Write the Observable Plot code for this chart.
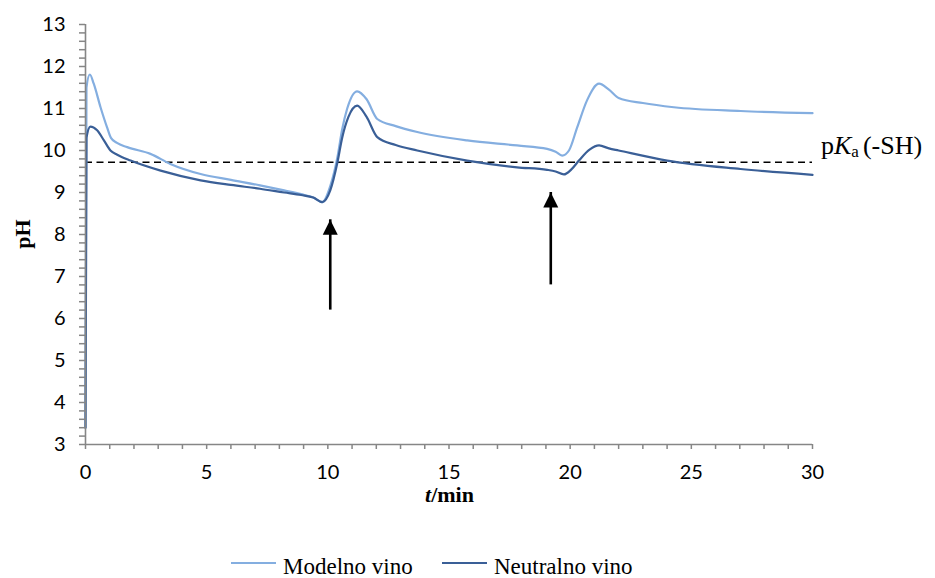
<!DOCTYPE html>
<html>
<head>
<meta charset="utf-8">
<script src="https://cdn.jsdelivr.net/npm/d3@7"></script>
<script src="https://cdn.jsdelivr.net/npm/@observablehq/plot@0.6"></script>
<style>
  body { margin: 0; background: #fff; }
  #chart { width: 935px; height: 530px; }
  #legend { position: relative; width: 935px; height: 48px; font-family: "Liberation Serif", "Times New Roman", serif; font-size: 23px; color: #000; }
  .item { position: absolute; top: 24px; display: flex; align-items: center; }
  .swatch { width: 45px; height: 2px; margin-right: 7px; position: relative; top: -4px; }
</style>
</head>
<body>
<div id="chart"></div>
<div id="legend"></div>
<script>
// ---- data ----
const seriesNames = ["Modelno vino", "Neutralno vino"];
const seriesColors = ["#84AEE0", "#3A5F97"];

const tModel = [0, 0.04, 0.18, 0.34, 0.62, 0.89, 1.05, 1.3, 1.72, 2.68, 3.5, 4.75, 6, 7.2, 8.2, 8.9, 9.4, 9.77, 10.1, 10.4, 10.59, 10.8, 11.21, 11.6, 12.04, 12.8, 13.69, 15.75, 17.81, 19.05, 19.4, 19.67, 19.95, 20.29, 20.7, 21.19, 21.6, 22.0, 23.0, 24.28, 27.03, 30];
const pHModel = [3.4, 11.5, 11.81, 11.59, 11.03, 10.55, 10.3, 10.18, 10.08, 9.92, 9.68, 9.44, 9.3, 9.17, 9.05, 8.96, 8.88, 8.77, 9.15, 9.85, 10.5, 11.0, 11.41, 11.22, 10.75, 10.58, 10.44, 10.24, 10.12, 10.04, 9.97, 9.88, 10.0, 10.55, 11.2, 11.59, 11.45, 11.25, 11.13, 11.03, 10.94, 10.89];

const tNeutral = [0, 0.04, 0.2, 0.48, 0.76, 1.03, 1.31, 1.86, 3.1, 4.75, 6, 7.2, 8.2, 8.9, 9.4, 9.77, 10.1, 10.39, 10.59, 10.85, 11.21, 11.6, 12.04, 12.8, 13.69, 15.75, 17.81, 19.05, 19.4, 19.74, 20.05, 20.36, 20.8, 21.19, 21.6, 22.0, 24.0, 27.03, 30];
const pHNeutral = [3.4, 10.3, 10.57, 10.48, 10.24, 10.0, 9.9, 9.76, 9.52, 9.29, 9.18, 9.09, 9.0, 8.94, 8.88, 8.77, 9.05, 9.7, 10.3, 10.8, 11.07, 10.8, 10.32, 10.13, 10.0, 9.76, 9.6, 9.54, 9.5, 9.43, 9.55, 9.76, 10.02, 10.12, 10.05, 10.0, 9.76, 9.56, 9.42];

const pKa = 9.72;                       // dashed reference line
const arrowT = [10.1, 19.2];            // arrow positions (min)
const arrowFrom = [6.2, 6.8];           // arrow tail (pH)
const arrowTo = [8.35, 9.0];            // arrow tip (pH)

const xTicks = [0, 5, 10, 15, 20, 25, 30];
const xMinorTicks = d3.range(0, 31);
const yTicks = [3, 4, 5, 6, 7, 8, 9, 10, 11, 12, 13];
const yMinorTicks = d3.range(15, 66).map(d => d / 5);

// ---- build tables ----
const lines = [
  ...tModel.map((t, i) => ({t, pH: pHModel[i], series: seriesNames[0]})),
  ...tNeutral.map((t, i) => ({t, pH: pHNeutral[i], series: seriesNames[1]}))
];
const arrows = arrowT.map((t, i) => ({t, from: arrowFrom[i], to: arrowTo[i]}));

const tipTriangle = {
  draw(ctx) { ctx.moveTo(0, 0); ctx.lineTo(-7.5, 15); ctx.lineTo(7.5, 15); ctx.closePath(); }
};

const axisGray = "#868686";
const W = 935, H = 530;

const plot = Plot.plot({
  width: W,
  height: H,
  marginLeft: 85,
  marginRight: 123,
  marginTop: 24,
  marginBottom: 86,
  x: {domain: [0, 30], label: null},
  y: {domain: [3, 13], label: null},
  color: {domain: seriesNames, range: seriesColors},
  style: {background: "#fff", overflow: "visible"},
  marks: [
    Plot.ruleY([pKa], {stroke: "#000", strokeWidth: 1.6, strokeDasharray: "7,4.5"}),
    Plot.line(lines, {x: "t", y: "pH", z: "series", stroke: "series", strokeWidth: 2.2, curve: "monotone-x"}),
    Plot.ruleX(arrows, {x: "t", y1: "from", y2: "to", stroke: "#000", strokeWidth: 2.6}),
    Plot.dot(arrows, {x: "t", y: "to", symbol: tipTriangle, fill: "#000", stroke: "none", r: 5}),
    Plot.axisY(yMinorTicks, {tickSize: 6, tickFormat: () => "", stroke: axisGray, strokeWidth: 1.5, label: null}),
    Plot.axisY(yTicks, {tickSize: 0, tickPadding: 20, fontSize: 20, fontFamily: "Lato", fill: "#000", label: null}),
    Plot.axisX(xMinorTicks, {tickSize: 5, tickFormat: () => "", stroke: axisGray, strokeWidth: 1.5, label: null}),
    Plot.axisX(xTicks, {tickSize: 0, tickPadding: 20, fontSize: 20, fontFamily: "Lato", fill: "#000", label: null}),
    Plot.ruleX([0], {stroke: axisGray, strokeWidth: 1.6}),
    Plot.ruleY([3], {stroke: axisGray, strokeWidth: 1.6})
  ]
});

document.getElementById("chart").appendChild(plot);

// ---- rich-text labels (italic / subscript parts) ----
const sx = plot.scale("x"), sy = plot.scale("y");
const svg = d3.select(plot);
const serif = "'Liberation Serif', 'Times New Roman', serif";

// x-axis title: t/min
const xt = svg.append("text")
  .attr("x", sx.apply(15) + 1)
  .attr("y", 444 + 58)
  .attr("text-anchor", "middle")
  .attr("font-family", serif)
  .attr("font-size", 22)
  .attr("font-weight", "bold")
  .attr("fill", "#000");
xt.append("tspan").attr("font-style", "italic").text("t");
xt.append("tspan").text("/min");

// y-axis title: pH
svg.append("text")
  .attr("transform", `translate(30,${(sy.apply(3) + sy.apply(13)) / 2}) rotate(-90)`)
  .attr("text-anchor", "middle")
  .attr("font-family", serif)
  .attr("font-size", 22)
  .attr("font-weight", "bold")
  .attr("fill", "#000")
  .text("pH");

// pKa (-SH)
const pk = svg.append("text")
  .attr("x", sx.apply(30) + 9)
  .attr("y", sy.apply(pKa) - 8)
  .attr("text-anchor", "start")
  .attr("font-family", serif)
  .attr("font-size", 26)
  .attr("fill", "#000");
pk.append("tspan").text("p");
pk.append("tspan").attr("font-style", "italic").text("K");
pk.append("tspan").attr("font-size", 17).attr("dy", 3).text("a");
pk.append("tspan").attr("dy", -3).attr("dx", 4).text("(-SH)");

// ---- legend ----
const legend = document.getElementById("legend");
const lefts = [231, 442];
seriesNames.forEach((name, i) => {
  const item = document.createElement("div");
  item.className = "item";
  item.style.left = lefts[i] + "px";
  const sw = document.createElement("span");
  sw.className = "swatch";
  sw.style.background = seriesColors[i];
  const label = document.createElement("span");
  label.textContent = name;
  item.appendChild(sw);
  item.appendChild(label);
  legend.appendChild(item);
});
</script>
</body>
</html>
